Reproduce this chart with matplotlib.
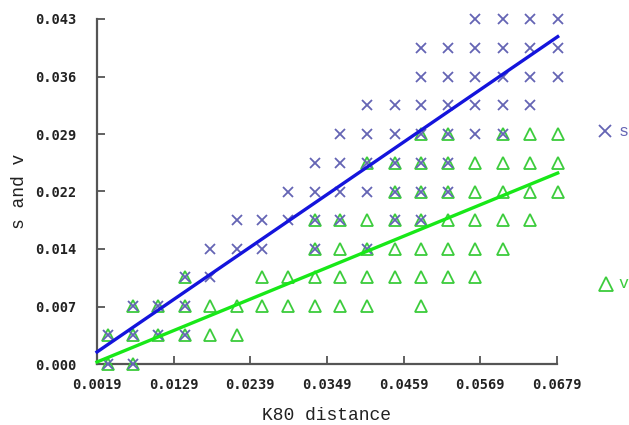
import matplotlib
matplotlib.use("Agg")
from matplotlib import pyplot as plt

# grid levels the points sit on
x_levels = [0.0035, 0.0071, 0.0107, 0.0145, 0.0181, 0.0220, 0.0256, 0.0293, 0.0332,
            0.0368, 0.0406, 0.0447, 0.0484, 0.0523, 0.0561, 0.0602, 0.0640, 0.0680]
y_levels = [0.0, 0.0036, 0.0072, 0.0108, 0.0143, 0.0179, 0.0215, 0.0251, 0.0287,
            0.0323, 0.0358, 0.0394, 0.0430]

# column indices present in each row (row index = position in list)
s_cols = [
    [0, 1],
    [0, 1, 2, 3],
    [1, 2, 3],
    [3, 4],
    [4, 5, 6, 8, 10],
    [5, 6, 7, 8, 9, 11, 12],
    [7, 8, 9, 10, 11, 12, 13],
    [8, 9, 10, 11, 12, 13],
    [9, 10, 11, 12, 13, 14, 15],
    [10, 11, 12, 13, 14, 15, 16],
    [12, 13, 14, 15, 16, 17],
    [12, 13, 14, 15, 16, 17],
    [14, 15, 16, 17],
]
v_cols = [
    [0, 1],
    [0, 1, 2, 3, 4, 5],
    [1, 2, 3, 4, 5, 6, 7, 8, 9, 10, 12],
    [3, 6, 7, 8, 9, 10, 11, 12, 13, 14],
    [8, 9, 10, 11, 12, 13, 14, 15],
    [8, 9, 10, 11, 12, 13, 14, 15, 16],
    [11, 12, 13, 14, 15, 16, 17],
    [10, 11, 12, 13, 14, 15, 16, 17],
    [12, 13, 15, 16, 17],
]

# fitted lines (end points)
fit_x = [0.0019, 0.0680]
s_fit_y = [0.0015, 0.0408]
v_fit_y = [0.00025, 0.0238]

x_ticks = [0.0019, 0.0129, 0.0239, 0.0349, 0.0459, 0.0569, 0.0679]
x_tick_labels = ["0.0019", "0.0129", "0.0239", "0.0349", "0.0459", "0.0569", "0.0679"]
y_ticks = [0.0, 0.043 / 6, 0.043 * 2 / 6, 0.043 * 3 / 6, 0.043 * 4 / 6, 0.043 * 5 / 6, 0.043]
y_tick_labels = ["0.000", "0.007", "0.014", "0.022", "0.029", "0.036", "0.043"]


def points(cols_by_row):
    xs, ys = [], []
    for r, cols in enumerate(cols_by_row):
        for c in cols:
            xs.append(x_levels[c])
            ys.append(y_levels[r])
    return xs, ys


s_x, s_y = points(s_cols)
v_x, v_y = points(v_cols)

s_color = '#6464b4'
v_color = '#3ccc3c'

fig = plt.figure(figsize=(6.29, 4.25), dpi=100)
ax = fig.add_axes([97 / 629, 1 - 364 / 425, 460 / 629, 345 / 425])

ax.plot(v_x, v_y, '^', ms=8.5, mfc='none', mec=v_color, mew=1.3, ls='none',
        clip_on=False, zorder=3)
ax.plot(s_x, s_y, 'x', ms=7, color=s_color, mew=1.3, ls='none',
        clip_on=False, zorder=4)
ax.plot(fit_x, s_fit_y, color='#1414dc', lw=2.4, zorder=5, clip_on=False)
ax.plot(fit_x, v_fit_y, color='#18e818', lw=2.4, zorder=5, clip_on=False)

ax.set_xlim(0.0019, 0.0679)
ax.set_ylim(0.0, 0.043)
ax.set_xticks(x_ticks)
ax.set_xticklabels(x_tick_labels)
ax.set_yticks(y_ticks)
ax.set_yticklabels(y_tick_labels)

for side in ['top', 'right']:
    ax.spines[side].set_visible(False)
for side in ['left', 'bottom']:
    ax.spines[side].set_color('#555555')
    ax.spines[side].set_linewidth(1.6)

tick_font = dict(family='DejaVu Sans Mono', weight='bold', size=9.8)
ax.tick_params(axis='x', direction='in', length=6, width=1.3, color='#555555', pad=10)
ax.tick_params(axis='y', direction='in', length=6, width=1.3, color='#555555', pad=15)
for lab in ax.get_xticklabels() + ax.get_yticklabels():
    lab.set_fontproperties(tick_font)
    lab.set_color('#222222')

ax.set_xlabel('K80 distance', family='Liberation Mono', size=13, color='#222222', labelpad=11)
ax.set_ylabel('s and v', family='Liberation Mono', size=13, color='#222222', labelpad=5)

# side legend entries
ax.plot([1.104], [0.675], 'x', ms=8, color=s_color, mew=1.3, transform=ax.transAxes, clip_on=False)
ax.text(1.133, 0.675, 's', transform=ax.transAxes, family='Liberation Mono', size=12,
        color=s_color, va='center', ha='left')
ax.plot([1.106], [0.232], '^', ms=10, mfc='none', mec=v_color, mew=1.3, transform=ax.transAxes, clip_on=False)
ax.text(1.133, 0.232, 'v', transform=ax.transAxes, family='Liberation Mono', size=12,
        color=v_color, va='center', ha='left')

fig.savefig('out.png', dpi=100)
